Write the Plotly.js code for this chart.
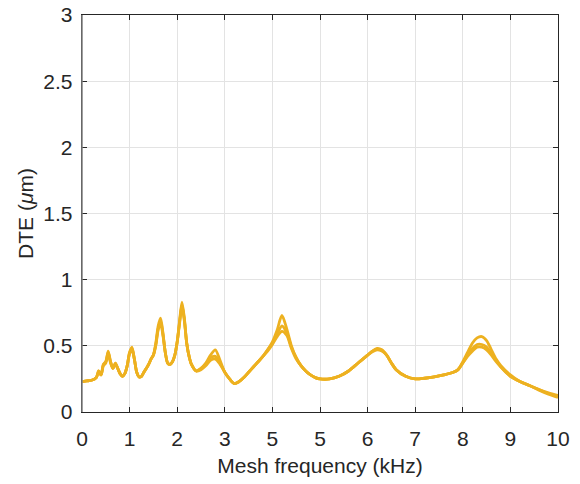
<!DOCTYPE html>
<html>
<head>
<meta charset="utf-8">
<script src="https://cdn.plot.ly/plotly-3.0.1.min.js"></script>
<style>html,body{margin:0;padding:0;background:#fff;}#chart{width:580px;height:484px;}</style>
</head>
<body>
<div id="chart"></div>
<script>
// Mesh frequency (kHz)
const freq = [0,0.1,0.2,0.3,0.35,0.4,0.45,0.5,0.55,0.6,0.65,0.7,0.75,0.8,0.85,0.9,0.95,1.0,1.05,1.1,1.15,1.2,1.25,1.3,1.4,1.45,1.5,1.55,1.6,1.65,1.7,1.75,1.8,1.85,1.9,1.95,2.0,2.05,2.1,2.15,2.2,2.25,2.3,2.4,2.5,2.6,2.7,2.8,2.9,3.0,3.1,3.2,3.3,3.4,3.5,3.6,3.7,3.8,3.9,4.0,4.1,4.2,4.3,4.4,4.5,4.6,4.7,4.8,4.9,5.0,5.2,5.4,5.6,5.8,6.0,6.1,6.2,6.3,6.4,6.5,6.6,6.8,7.0,7.2,7.4,7.6,7.8,7.9,8.0,8.1,8.2,8.3,8.4,8.5,8.6,8.7,8.8,9.0,9.2,9.4,9.6,9.8,10.0];
// DTE (um), three load cases
const dteA = [0.23,0.235,0.24,0.26,0.31,0.28,0.36,0.38,0.46,0.38,0.33,0.37,0.33,0.29,0.27,0.29,0.35,0.45,0.49,0.40,0.30,0.265,0.27,0.30,0.36,0.40,0.43,0.52,0.65,0.71,0.60,0.45,0.37,0.36,0.38,0.43,0.53,0.69,0.83,0.71,0.52,0.42,0.36,0.31,0.33,0.37,0.43,0.47,0.39,0.30,0.25,0.215,0.23,0.26,0.30,0.34,0.38,0.42,0.47,0.53,0.62,0.73,0.63,0.50,0.41,0.35,0.31,0.28,0.26,0.25,0.25,0.27,0.31,0.37,0.43,0.46,0.48,0.47,0.43,0.37,0.32,0.27,0.25,0.255,0.265,0.28,0.30,0.32,0.38,0.45,0.52,0.56,0.57,0.54,0.47,0.40,0.35,0.28,0.23,0.20,0.17,0.145,0.125];
const dteB = [0.23,0.235,0.24,0.26,0.31,0.28,0.36,0.38,0.45,0.38,0.33,0.37,0.33,0.29,0.27,0.29,0.35,0.45,0.48,0.40,0.30,0.265,0.27,0.30,0.36,0.40,0.43,0.51,0.63,0.69,0.59,0.45,0.37,0.36,0.38,0.43,0.53,0.68,0.81,0.70,0.52,0.42,0.36,0.31,0.33,0.36,0.41,0.42,0.37,0.30,0.25,0.215,0.23,0.26,0.30,0.34,0.38,0.42,0.47,0.52,0.59,0.65,0.60,0.49,0.41,0.35,0.31,0.28,0.26,0.25,0.25,0.27,0.31,0.37,0.43,0.46,0.475,0.465,0.43,0.37,0.32,0.27,0.25,0.255,0.265,0.28,0.30,0.32,0.37,0.43,0.48,0.51,0.51,0.49,0.44,0.39,0.34,0.27,0.23,0.20,0.17,0.14,0.12];
const dteC = [0.23,0.235,0.24,0.26,0.30,0.28,0.35,0.37,0.44,0.37,0.33,0.36,0.33,0.29,0.27,0.29,0.35,0.44,0.47,0.40,0.30,0.265,0.27,0.30,0.36,0.40,0.43,0.50,0.62,0.67,0.58,0.45,0.37,0.36,0.38,0.43,0.53,0.67,0.80,0.69,0.52,0.42,0.36,0.31,0.32,0.35,0.39,0.40,0.36,0.30,0.25,0.215,0.23,0.26,0.30,0.34,0.38,0.42,0.46,0.51,0.57,0.61,0.58,0.48,0.40,0.35,0.31,0.28,0.26,0.25,0.25,0.27,0.31,0.37,0.43,0.455,0.47,0.46,0.43,0.37,0.32,0.27,0.25,0.255,0.265,0.28,0.30,0.32,0.37,0.42,0.46,0.49,0.49,0.47,0.43,0.38,0.34,0.27,0.23,0.20,0.165,0.135,0.11];
const xTickVals = [0,1,2,3,4,5,6,7,8,9,10];
const xTickText = ["0","1","2","3","5","5","6","7","8","9","10"];
const yTickVals = [0,0.5,1,1.5,2,2.5,3];
const yTickText = ["0","0.5","1","1.5","2","2.5","3"];

const lineColor = '#EDB120';
const series = [dteA, dteB, dteC];
const traces = series.map(v => ({
  x: freq, y: v, type: 'scatter', mode: 'lines',
  line: {color: lineColor, width: 2.8, shape: 'spline', smoothing: 0.8},
  showlegend: false, hoverinfo: 'skip'
}));

const font = {family: '"Liberation Sans", Arial, sans-serif', size: 21, color: '#262626'};
const layout = {
  width: 580, height: 484,
  margin: {l: 82, r: 22, t: 15, b: 72, pad: 0},
  paper_bgcolor: '#fff', plot_bgcolor: '#fff',
  font: font,
  showlegend: false,
  xaxis: {
    range: [0, 10], tickmode: 'array', tickvals: xTickVals, ticktext: xTickText,
    ticks: 'inside', ticklen: 5, tickcolor: '#262626', tickwidth: 1,
    showline: true, linecolor: '#262626', linewidth: 1.3, mirror: 'ticks',
    showgrid: true, gridcolor: '#e3e3e3', gridwidth: 1, zeroline: false,
    tickfont: font, ticklabelstandoff: 7,
    title: {text: 'Mesh frequency (kHz)', font: font, standoff: 9}
  },
  yaxis: {
    range: [0, 3], tickmode: 'array', tickvals: yTickVals, ticktext: yTickText,
    ticks: 'inside', ticklen: 5, tickcolor: '#262626', tickwidth: 1,
    showline: true, linecolor: '#262626', linewidth: 1.3, mirror: 'ticks',
    showgrid: true, gridcolor: '#e3e3e3', gridwidth: 1, zeroline: false,
    tickfont: font, ticklabelstandoff: 4,
    title: {text: 'DTE (<i>μ</i>m)', font: font, standoff: 4}
  },
  shapes: [{type: 'line', xref: 'paper', yref: 'paper', x0: 0, x1: 0, y0: 0, y1: 1,
            line: {color: '#7f7f7f', width: 1.5}, layer: 'above'}]
};
Plotly.newPlot('chart', traces, layout, {displayModeBar: false, staticPlot: true});
</script>
</body>
</html>
